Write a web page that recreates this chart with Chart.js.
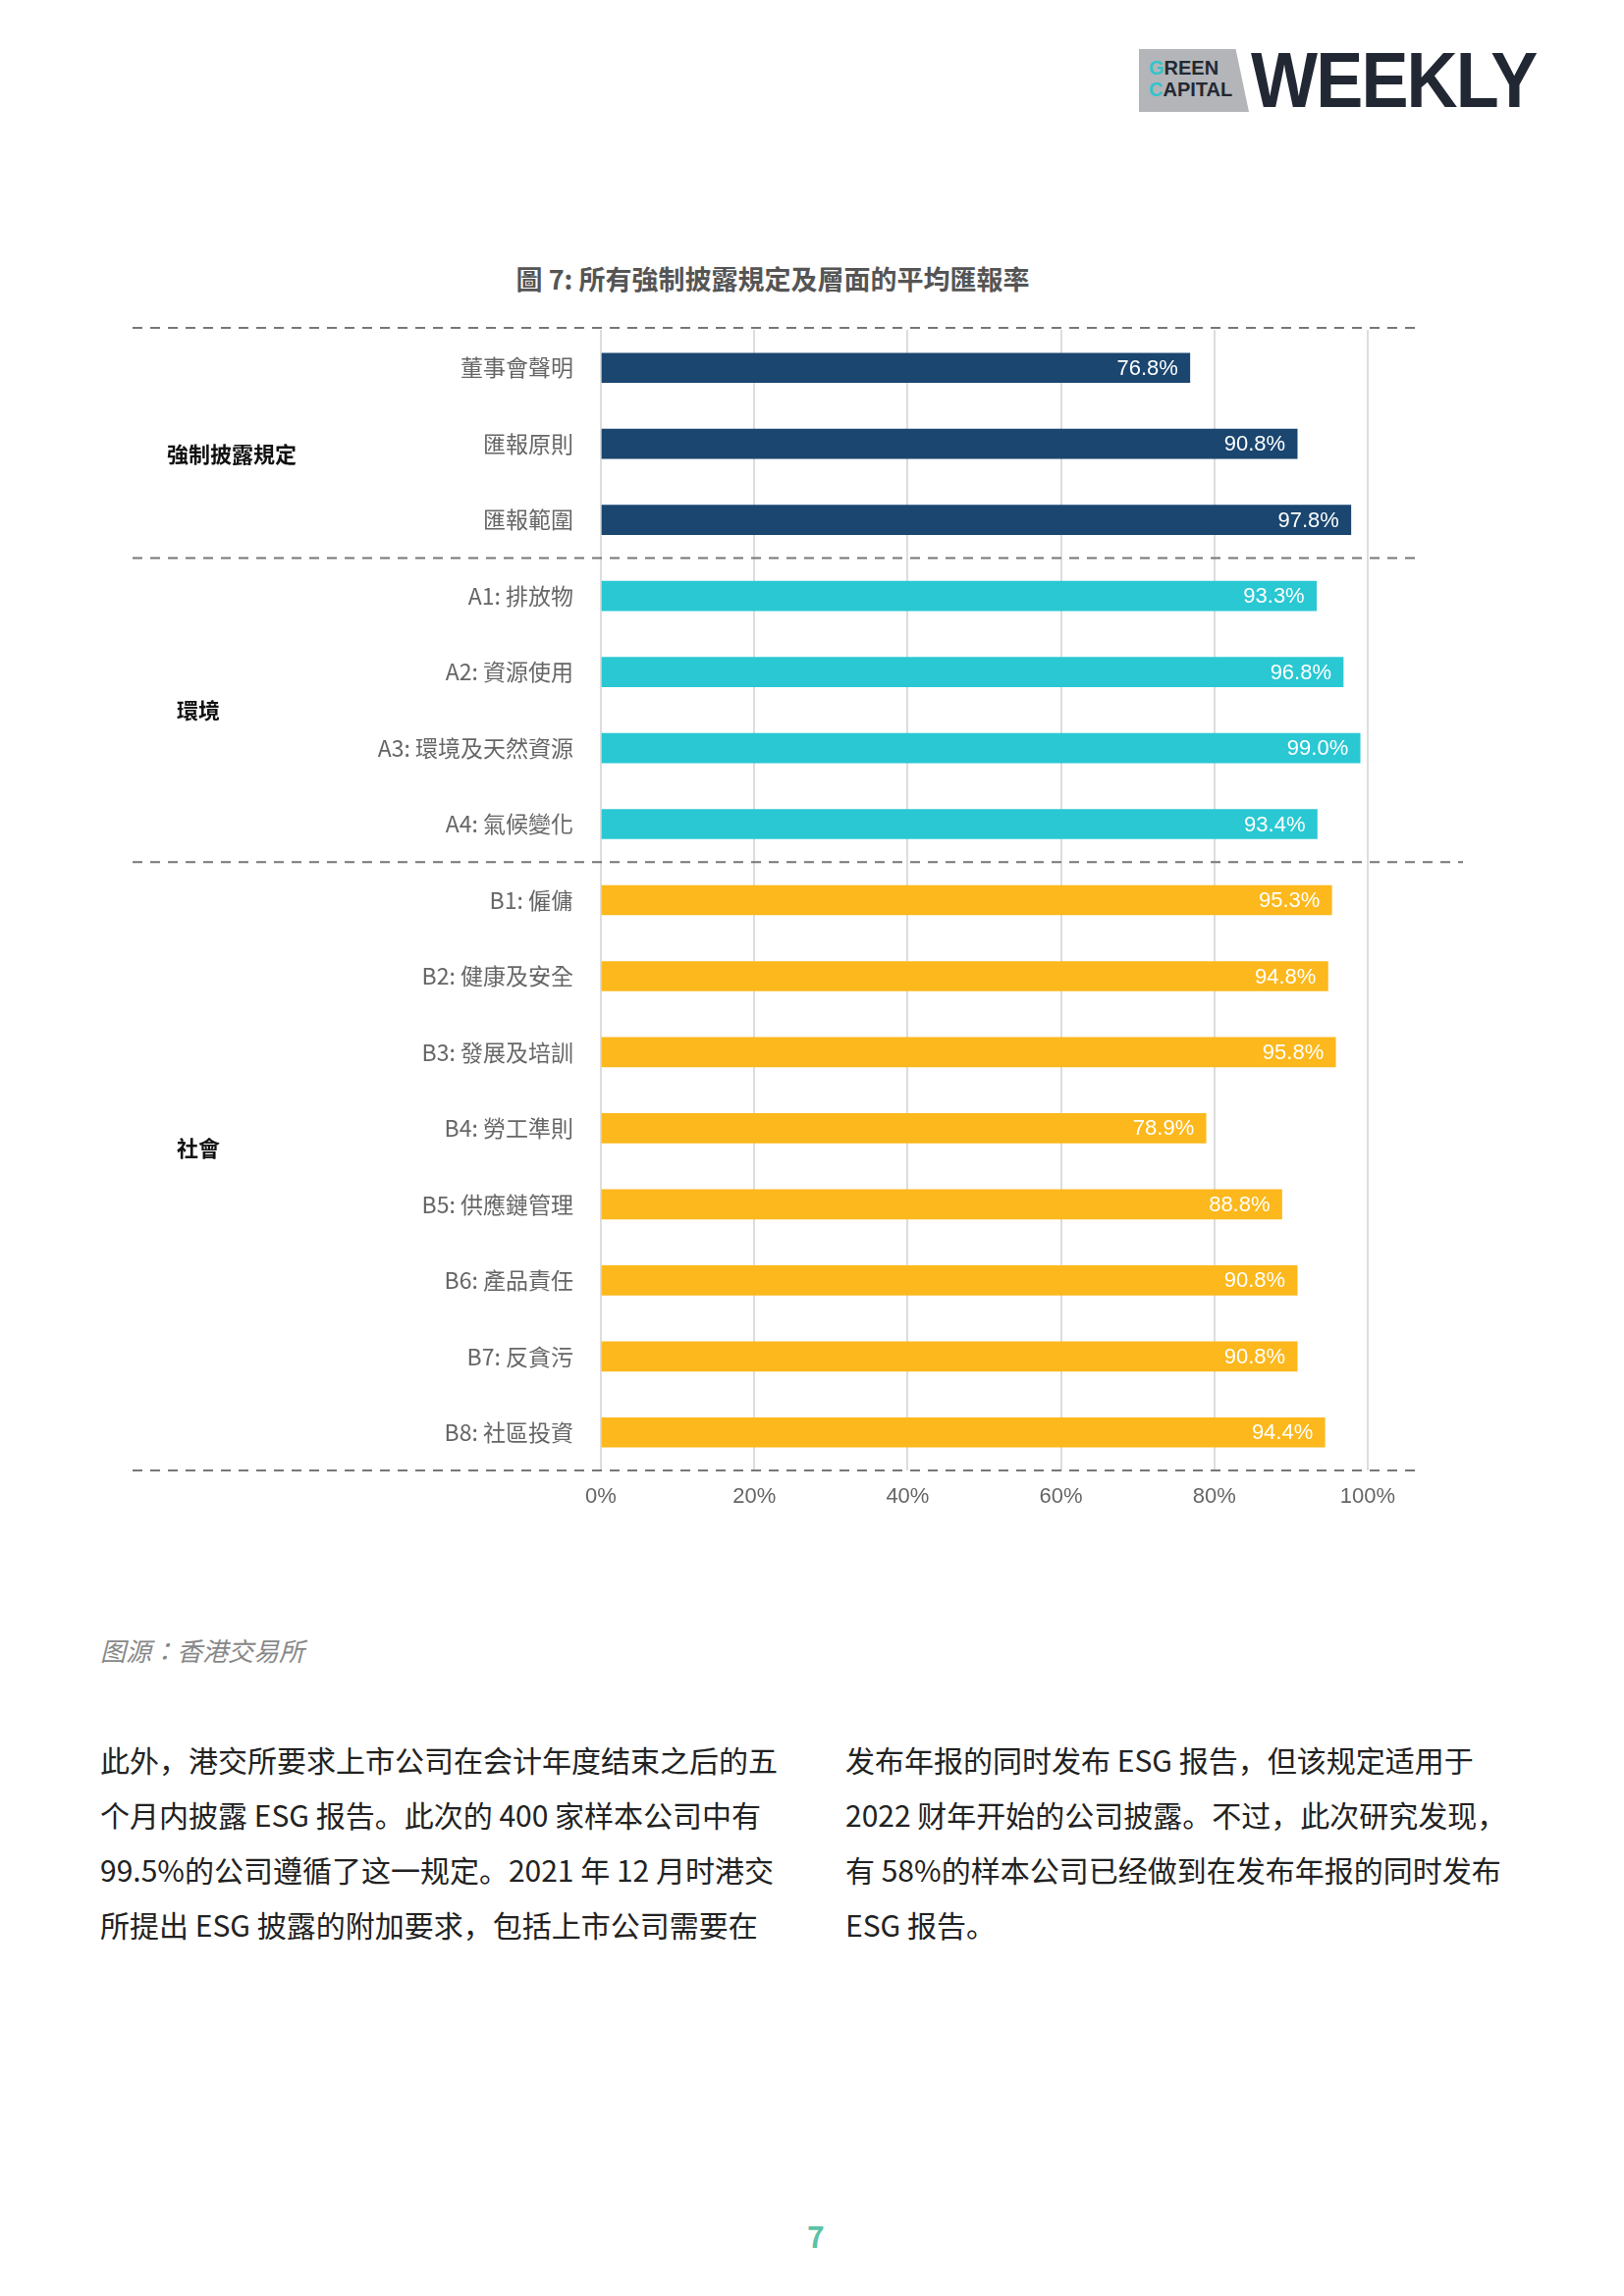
<!DOCTYPE html>
<html>
<head>
<meta charset="utf-8">
<script src="https://cdn.jsdelivr.net/npm/chart.js@4/dist/chart.umd.min.js"></script>
<style>
  body { margin: 0; width: 1654px; height: 2339px; background: #fff; position: relative; font-family: "Noto Sans CJK TC", "Noto Sans", sans-serif; }
  .abs { position: absolute; }
  #logo { left: 1160px; top: 48px; height: 68px; display: flex; align-items: center; }
  #logo .box { background: #b3b5b8; width: 112px; height: 64px; clip-path: polygon(0 0, 88% 0, 100% 100%, 0 100%); font: 700 20px/22px "Liberation Sans", sans-serif; color: #222833; padding: 8px 0 0 10px; box-sizing: border-box; }
  #logo .box b { color: #33c3cc; }
  #logo .w { font: 700 80px/1 "Liberation Sans", sans-serif; color: #222833; letter-spacing: -2px; margin-left: 2px; transform: scaleX(0.9); transform-origin: left; }
  #title { left: 0; width: 1574px; top: 264px; text-align: center; font-size: 27px; font-weight: 700; color: #555; }
  #chartWrap { left: 0; top: 252px; width: 1654px; height: 1350px; }
  #src { left: 102px; top: 1662px; font-size: 26px; font-style: italic; color: #888; }
  .col { top: 1764px; width: 700px; font-family: "Noto Sans CJK SC", sans-serif; font-size: 30px; line-height: 56px; color: #222; }
  #page { left: 822px; top: 2255px; font-size: 30px; font-weight: 700; color: #5cc2a8; }
</style>
</head>
<body>
<div id="logo" class="abs"><div class="box"><b>G</b>REEN<br><b>C</b>APITAL</div><div class="w">WEEKLY</div></div>
<div id="title" class="abs">圖 7: 所有強制披露規定及層面的平均匯報率</div>
<div id="chartWrap" class="abs"><canvas id="c"></canvas></div>
<div id="src" class="abs">图源：香港交易所</div>
<div class="abs col" style="left:102px">此外，港交所要求上市公司在会计年度结束之后的五<br>个月内披露 ESG 报告。此次的 400 家样本公司中有<br>99.5%的公司遵循了这一规定。2021 年 12 月时港交<br>所提出 ESG 披露的附加要求，包括上市公司需要在</div>
<div class="abs col" style="left:861px">发布年报的同时发布 ESG 报告，但该规定适用于<br>2022 财年开始的公司披露。不过，此次研究发现，<br>有 58%的样本公司已经做到在发布年报的同时发布<br>ESG 报告。</div>
<div id="page" class="abs">7</div>
<script>
const labels = ['董事會聲明', '匯報原則', '匯報範圍',
  'A1: 排放物', 'A2: 資源使用', 'A3: 環境及天然資源', 'A4: 氣候變化',
  'B1: 僱傭', 'B2: 健康及安全', 'B3: 發展及培訓', 'B4: 勞工準則',
  'B5: 供應鏈管理', 'B6: 產品責任', 'B7: 反貪污', 'B8: 社區投資'];
const values = [76.8, 90.8, 97.8, 93.3, 96.8, 99.0, 93.4, 95.3, 94.8, 95.8, 78.9, 88.8, 90.8, 90.8, 94.4];
const groups = ['強制披露規定', '環境', '社會'];
const groupSizes = [3, 4, 8];
const groupColors = ['#1a4670', '#29c8d3', '#fcb81c'];
const xTicks = [0, 20, 40, 60, 80, 100];

const colors = [];
groupSizes.forEach((n, g) => { for (let i = 0; i < n; i++) colors.push(groupColors[g]); });

const extras = {
  id: 'extras',
  afterDraw(chart) {
    const ctx = chart.ctx, y = chart.scales.y, x = chart.scales.x;
    const step = y.getPixelForValue(1) - y.getPixelForValue(0);
    ctx.save();
    ctx.font = '22px "Liberation Sans", sans-serif';
    ctx.fillStyle = '#fff';
    ctx.textAlign = 'right';
    ctx.textBaseline = 'middle';
    values.forEach((v, i) => {
      ctx.fillText(v.toFixed(1) + '%', x.getPixelForValue(v) - 12, y.getPixelForValue(i) + 1);
    });
    ctx.strokeStyle = '#777';
    ctx.lineWidth = 2;
    ctx.setLineDash([10, 8]);
    let start = 0;
    const line = (py, x2) => { ctx.beginPath(); ctx.moveTo(135, py); ctx.lineTo(x2, py); ctx.stroke(); };
    line(y.getPixelForValue(0) - step / 2 - 2, 1443);
    groupSizes.forEach((n, g) => {
      const end = start + n - 1;
      line(y.getPixelForValue(end) + step / 2, g === 1 ? 1490 : 1443);
      ctx.fillStyle = '#111';
      ctx.textAlign = 'left';
      ctx.font = 'bold 22px "Noto Sans CJK TC", sans-serif';
      let mid = (y.getPixelForValue(start) + y.getPixelForValue(end)) / 2;
      if (g === 0) mid += 10;
      if (g === 2) mid -= 18;
      ctx.fillText(groups[g], g === 0 ? 170 : 180, mid);
      start += n;
    });
    ctx.restore();
  }
};

new Chart(document.getElementById('c'), {
  type: 'bar',
  data: { labels, datasets: [{ data: values, backgroundColor: colors, barThickness: 30 }] },
  options: {
    indexAxis: 'y',
    responsive: true,
    maintainAspectRatio: false,
    animation: false,
    layout: { padding: { top: 84, right: 261, left: 0, bottom: 0 } },
    plugins: { legend: { display: false }, tooltip: { enabled: false } },
    scales: {
      x: {
        min: 0, max: 100,
        afterBuildTicks: s => { s.ticks = xTicks.map(v => ({ value: v })); },
        afterFit: s => { s.height = 104; },
        grid: { color: '#dddddd', lineWidth: 2, drawTicks: false },
        border: { display: false },
        ticks: { color: '#666', font: { size: 22, family: '"Liberation Sans", sans-serif' }, padding: 14, callback: v => v + '%' }
      },
      y: {
        afterFit: s => { s.width = 612; },
        grid: { display: false },
        border: { display: false },
        ticks: { color: '#666', font: { size: 23, family: '"Noto Sans CJK TC", sans-serif' }, padding: 20 }
      }
    }
  },
  plugins: [extras]
});
</script>
</body>
</html>
